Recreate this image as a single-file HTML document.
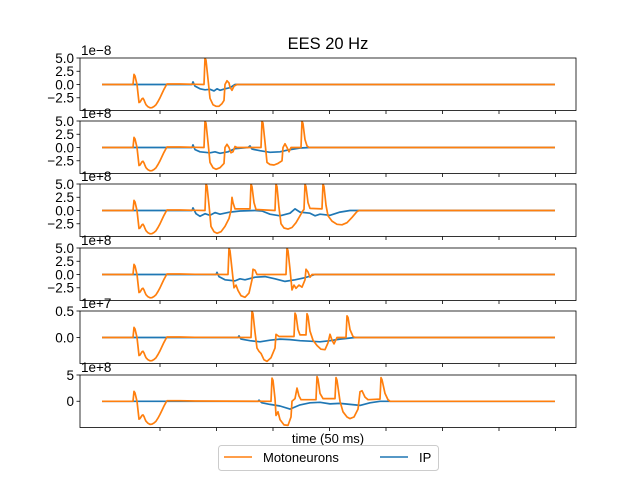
<!DOCTYPE html>
<html><head><meta charset="utf-8">
<style>
body{margin:0;background:#fff;}
svg{display:block;font-family:"Liberation Sans","DejaVu Sans",sans-serif;}
</style></head>
<body>
<svg id="chart" width="640" height="480" viewBox="0 0 640 480" xmlns="http://www.w3.org/2000/svg">
<rect width="640" height="480" fill="#fff"/>
<text x="328" y="49" font-size="16.5" text-anchor="middle" fill="#000">EES 20 Hz</text>
<g id="plots"></g>
<text x="328" y="443" font-size="13" text-anchor="middle">time (50 ms)</text>
<g>
<rect x="218.5" y="445.5" width="220" height="25" rx="3" fill="#fff" stroke="#ccc"/>
<g>
<line x1="224" y1="457" x2="252" y2="457" stroke="#ff7f0e" stroke-width="1.5"/>
<text x="263" y="462" font-size="13">Motoneurons</text></g>
<g>
<line x1="380" y1="457" x2="408" y2="457" stroke="#1f77b4" stroke-width="1.5"/>
<text x="419" y="462" font-size="13">IP</text></g>
</g>
</svg>
<script>
// x data in time-index units
const xTicks=[160,216.5,273,329.5,386,442.5,499,555.5];
const firstT=[102,133,134,135,137,139,140,141,142,143,144,145,146,148,150,152,154,156,158,160,162,164,166,167,180,195];
const firstV=[0,0,1.9,1.6,0,-3.4,-3.3,-3.0,-2.7,-2.6,-2.9,-3.4,-3.8,-4.2,-4.4,-4.35,-4.15,-3.8,-3.2,-2.5,-1.7,-0.9,-0.2,0.1,0.1,0.05];
// Motoneurons series (after first event)
const mn1T=[204,205,206,208,210,213,216,219,222,224,225,227,229,230,232,234,237,555];
const mn1V=[0,5,4.6,1,-2.6,-3.8,-4.1,-4.1,-3.6,-3,0,0.7,0.3,-0.5,-1.1,-0.3,0,0];
const mn2T=[204,205,206,208,210,213,216,220,224,225,227,229,231,233,235,237,261,262,263,265,267,270,274,278,282,283,285,287,289,291,301,302,303,305,307,309,555];
const mn2V=[0,5,4.6,1,-2.8,-3.8,-4.1,-3.8,-3,0,0.6,0,-1,-0.8,0.2,0,0,5,4.6,1,-2.8,-3.2,-3.3,-3,-2.5,0,0.7,0,-0.8,0,0,5,4.5,1.5,0.3,0,0];
const mn3T=[205,206,207,209,211,214,217,221,225,229,231,232,233,235,250,251,252,254,256,275,276,277,279,281,284,288,292,296,300,303,304,305,306,308,310,322,323,324,326,328,332,337,342,347,352,357,359,555];
const mn3V=[0,5,4.6,1,-3,-4,-4.3,-4,-3,-1.5,0,2.5,1.5,0.3,0.3,5,4.5,1.5,0.2,0,5,4.5,0.5,-2.5,-3.3,-3.5,-3.2,-2.3,-1,0,0.2,5,4.5,1.5,0.4,0.3,5,4.5,1,-1,-2,-2.6,-2.7,-2.3,-1.3,-0.2,0,0];
const mn4T=[228,229,230,232,234,236,238,241,245,249,252,253,255,257,286,287,288,290,292,294,296,299,302,305,306,308,310,312,555];
const mn4V=[0,5,4.5,1,-2.5,-2,-3,-4,-4.3,-3.5,-1,1,0.8,0,0,5,4.5,1,-2.9,-2,-2.6,-2,-2.4,-1,1,0.5,-0.5,0,0];
const mn5T=[251,252,253,255,257,259,261,264,267,271,275,276,279,294,295,296,298,300,306,307,308,310,313,317,321,325,328,330,332,334,337,346,347,348,350,353,355,555];
const mn5V=[0,0.5,0.45,0.1,-0.2,-0.26,-0.3,-0.42,-0.45,-0.38,-0.2,0.06,0.02,0.02,0.46,0.42,0.15,0.05,0.05,0.45,0.4,0.12,-0.05,-0.15,-0.22,-0.23,-0.1,0.06,-0.05,-0.12,0,0,0.41,0.38,0.15,0.02,0,0];
const mn6T=[271,272,273,275,276,278,280,284,288,291,292,295,297,299,301,316,317,318,320,323,335,336,337,340,343,347,350,354,358,360,362,365,368,380,381,382,385,388,390,555];
const mn6V=[0,4.4,4,0.5,-2.7,-2,-3.5,-4.5,-4.6,-3,0,0.5,2.5,1,0.3,0.3,4.7,4.2,1.5,0.5,0.5,4.5,4,0,-2,-3,-3.3,-3,-1.5,1.8,2,0.8,0.3,0.4,4.5,4.1,1.5,0.3,0,0];
// IP series
const ip1T=[102,192,193,195,200,205,210,214,217,220,225,230,235,555];
const ip1V=[0,0,0.5,-0.3,-0.8,-1,-0.9,-1.2,-0.8,-1.1,-0.8,-0.6,0,0];
const ip2T=[102,192,193,195,200,210,215,220,228,235,248,250,252,260,270,280,290,300,310,555];
const ip2V=[0,0,0.5,-0.4,-0.8,-1,-0.8,-1.1,-0.8,-0.2,0,0.3,-0.3,-0.6,-0.9,-0.8,-0.4,-0.1,0,0];
const ip3T=[102,192,193,196,200,205,210,215,220,230,240,255,262,270,280,290,295,300,310,315,320,330,340,350,555];
const ip3V=[0,0,0.5,-0.6,-1.1,-0.6,-0.9,-0.4,-0.7,-0.3,-0.1,0,-0.1,-0.7,-1,-0.5,0.3,-0.3,-0.5,-1,-0.7,-0.9,-0.3,0,0];
const ip4T=[102,216,217,219,225,235,240,245,255,265,275,285,295,305,315,555];
const ip4V=[0,0,0.4,-0.4,-1,-1.2,-0.8,-1,-0.5,-0.4,-0.8,-1.3,-1,-0.6,0,0];
const ip5T=[102,238,239,241,250,260,270,280,290,300,310,320,330,340,355,555];
const ip5V=[0,0,0.03,-0.03,-0.06,-0.08,-0.05,-0.03,-0.04,-0.06,-0.07,-0.08,-0.06,-0.03,0,0];
const ip6T=[102,258,259,262,270,280,290,300,310,320,330,340,350,360,370,380,555];
const ip6V=[0,0,0.2,-0.3,-0.6,-0.9,-1.5,-0.7,-0.3,-0.2,-0.5,-0.4,-0.6,-0.8,-0.3,0,0];
const expLabels=["1e\u22128","1e+8","1e+8","1e+8","1e+7","1e+8"];
const yTickLabels=[["5.0","2.5","0.0","\u22122.5"],["5.0","2.5","0.0","\u22122.5"],["5.0","2.5","0.0","\u22122.5"],["5.0","2.5","0.0","\u22122.5"],["0.5","0.0"],["5","0"]];
const yTickVals=[[5,2.5,0,-2.5],[5,2.5,0,-2.5],[5,2.5,0,-2.5],[5,2.5,0,-2.5],[0.5,0],[5,0]];
const yMin=[-4.9,-4.9,-4.9,-4.9,-0.49,-5];
const yMax=[5,5,5,5,0.5,5];

const panels=[
 {mT:firstT.concat(mn1T),mV:firstV.concat(mn1V),iT:ip1T,iV:ip1V,top:58},
 {mT:firstT.concat(mn2T),mV:firstV.concat(mn2V),iT:ip2T,iV:ip2V,top:121},
 {mT:firstT.concat(mn3T),mV:firstV.concat(mn3V),iT:ip3T,iV:ip3V,top:184},
 {mT:firstT.concat(mn4T),mV:firstV.concat(mn4V),iT:ip4T,iV:ip4V,top:248},
 {mT:firstT.concat(mn5T),mV:firstV.map(v=>v/10).concat(mn5V),iT:ip5T,iV:ip5V,top:311},
 {mT:firstT.concat(mn6T),mV:firstV.concat(mn6V),iT:ip6T,iV:ip6V,top:375}
];
const NS="http://www.w3.org/2000/svg";
const L=80,R=576,H=52.5,X0=80,X1=576;
function xs(t){return L+(t-X0)/(X1-X0)*(R-L);}
const g=document.getElementById('plots');
function mk(tag,attrs,parent){const e=document.createElementNS(NS,tag);for(const k in attrs)e.setAttribute(k,attrs[k]);(parent||g).appendChild(e);return e;}
panels.forEach((p,i)=>{
  const top=p.top,bot=top+H;
  const ys=v=>bot-(v-yMin[i])/(yMax[i]-yMin[i])*H;
  const grp=mk('g',{});
  
  
  const clip=mk('clipPath',{id:'c'+i},grp);
  mk('rect',{x:L,y:top,width:R-L,height:H},clip);
  const pl=(T,V,col,name)=>{
    const d=T.map((t,k)=>(k?'L':'M')+xs(t).toFixed(1)+' '+ys(V[k]).toFixed(1)).join('');
    const path=mk('path',{d:d,fill:'none',stroke:col,'stroke-width':1.7,'stroke-linejoin':'round','clip-path':'url(#c'+i+')'},grp);
    
    
  };
  pl(p.iT,p.iV,'#1f77b4','ip-line-'+(i+1));
  pl(p.mT,p.mV,'#ff7f0e','motoneurons-line-'+(i+1));
  const frame=mk('rect',{x:L,y:top,width:R-L,height:H,fill:'none',stroke:'#000','stroke-width':0.8},grp);
  
  
  xTicks.forEach(t=>{mk('line',{x1:xs(t),x2:xs(t),y1:bot,y2:bot+3.5,stroke:'#000','stroke-width':0.8},grp);});
  yTickVals[i].forEach((v,k)=>{
    const y=ys(v);
    mk('line',{x1:L-3.5,x2:L,y1:y,y2:y,stroke:'#000','stroke-width':0.8},grp);
    const tx=mk('text',{x:L-6,y:y+4.8,'font-size':13.5,'text-anchor':'end'},grp);
    tx.textContent=yTickLabels[i][k];
    
    
  });
  const ex=mk('text',{x:L+1,y:top-3,'font-size':13.5},grp);
  ex.textContent=expLabels[i];
  
  
});
</script>
</body></html>
